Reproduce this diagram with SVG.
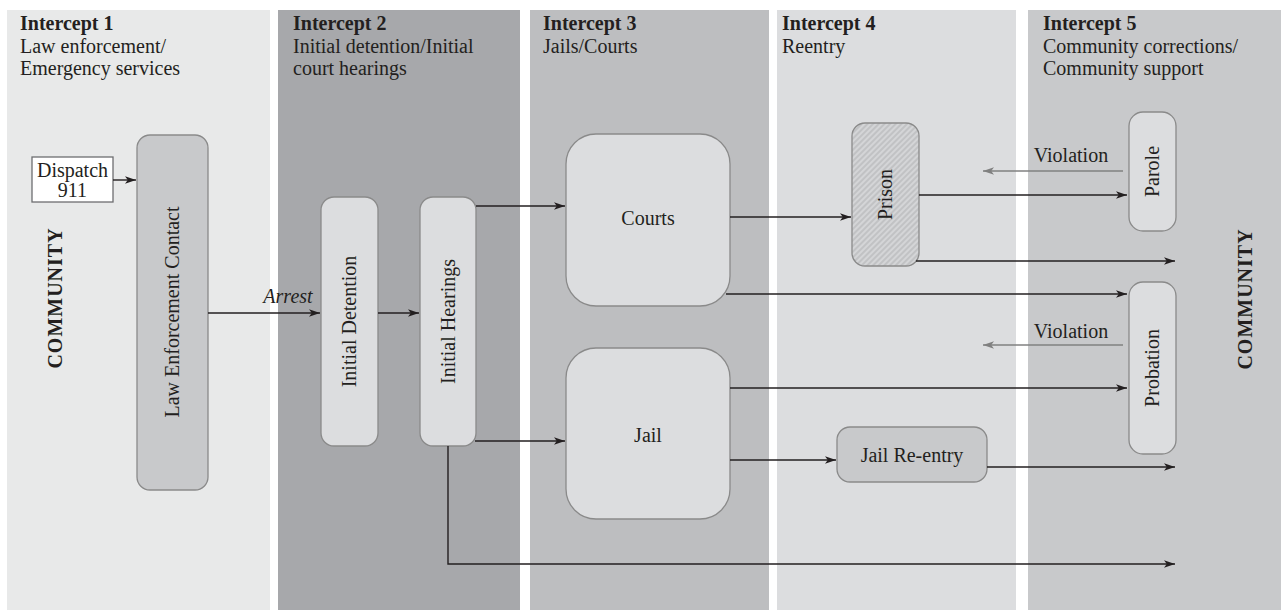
<svg xmlns="http://www.w3.org/2000/svg" width="1281" height="610" viewBox="0 0 1281 610">
<style>
text{font-family:"Liberation Serif","Times New Roman",serif;font-size:20px;fill:#231f20}
.b{font-weight:bold}
.it{font-style:italic}
.m{text-anchor:middle}
.box{fill:#dcdddf;stroke:#8a8a8a;stroke-width:1.3}
.dk{fill:#c8c9cb;stroke:#8a8a8a;stroke-width:1.3}
.c{fill:none;stroke:#231f20;stroke-width:1.4}
.g{fill:none;stroke:#808080;stroke-width:1.4}
</style>
<defs>
<marker id="a" viewBox="0 0 10 7" refX="10" refY="3.5" markerWidth="11" markerHeight="8" markerUnits="userSpaceOnUse" orient="auto"><path d="M0,0 L10,3.5 L0,7 L2.5,3.5 z" fill="#231f20"/></marker>
<marker id="ag" viewBox="0 0 10 7" refX="10" refY="3.5" markerWidth="11" markerHeight="8" markerUnits="userSpaceOnUse" orient="auto"><path d="M0,0 L10,3.5 L0,7 L2.5,3.5 z" fill="#808080"/></marker>
<pattern id="h" width="4" height="4" patternUnits="userSpaceOnUse" patternTransform="rotate(45)"><rect width="4" height="4" fill="#d4d5d7"/><line x1="1" y1="0" x2="1" y2="4" stroke="#aeafb1" stroke-width="1"/></pattern>
</defs>
<rect width="1281" height="610" fill="#ffffff"/>
<g id="columns">
<rect x="7" y="10" width="263" height="600" fill="#e8e9e9"/>
<rect x="278" y="10" width="242" height="600" fill="#a7a8ab"/>
<rect x="530" y="10" width="239" height="600" fill="#bdbec0"/>
<rect x="777" y="10" width="239" height="600" fill="#dcdddf"/>
<rect x="1028" y="10" width="253" height="600" fill="#c8c9cb"/>
</g>
<g id="titles">
<text x="20" y="30" class="b">Intercept 1</text>
<text x="20" y="53">Law enforcement/</text>
<text x="20" y="75">Emergency services</text>
<text x="293" y="30" class="b">Intercept 2</text>
<text x="293" y="53">Initial detention/Initial</text>
<text x="293" y="75">court hearings</text>
<text x="543" y="30" class="b">Intercept 3</text>
<text x="543" y="53">Jails/Courts</text>
<text x="782" y="30" class="b">Intercept 4</text>
<text x="782" y="53">Reentry</text>
<text x="1043" y="30" class="b">Intercept 5</text>
<text x="1043" y="53">Community corrections/</text>
<text x="1043" y="75">Community support</text>
</g>
<g id="community-left"><text class="b m" transform="translate(62,298) rotate(-90)" style="letter-spacing:1px">COMMUNITY</text></g>
<g id="community-right"><text class="b m" transform="translate(1252,299) rotate(-90)" style="letter-spacing:1px">COMMUNITY</text></g>
<g id="dispatch">
<rect x="32" y="157" width="81" height="45" fill="#ffffff" stroke="#6d6e70" stroke-width="1.3"/>
<text x="72.5" y="177" class="m">Dispatch</text>
<text x="72.5" y="197" class="m">911</text>
</g>
<g id="law-enforcement">
<rect x="137" y="135" width="71" height="355" rx="13" class="dk"/>
<text class="m" transform="translate(179,312) rotate(-90)">Law Enforcement Contact</text>
</g>
<g id="initial-detention">
<rect x="321" y="197" width="57" height="249" rx="13" class="box"/>
<text class="m" transform="translate(356,321.5) rotate(-90)">Initial Detention</text>
</g>
<g id="initial-hearings">
<rect x="420" y="197" width="56" height="249" rx="13" class="box"/>
<text class="m" transform="translate(455,321.5) rotate(-90)">Initial Hearings</text>
</g>
<g id="courts">
<rect x="566" y="134" width="164" height="172" rx="30" class="box"/>
<text x="648" y="225" class="m">Courts</text>
</g>
<g id="jail">
<rect x="566" y="348" width="164" height="171" rx="30" class="box"/>
<text x="648" y="442" class="m">Jail</text>
</g>
<g id="prison">
<rect x="852" y="123" width="67" height="143" rx="13" fill="url(#h)" stroke="#8a8a8a" stroke-width="1.3"/>
<text class="m" transform="translate(892,194.5) rotate(-90)">Prison</text>
</g>
<g id="jail-reentry">
<rect x="837" y="427" width="150" height="55" rx="13" class="dk"/>
<text x="912" y="462" class="m">Jail Re-entry</text>
</g>
<g id="parole">
<rect x="1129" y="112" width="47" height="119" rx="14" class="box"/>
<text class="m" transform="translate(1159,171.5) rotate(-90)">Parole</text>
</g>
<g id="probation">
<rect x="1129" y="282" width="47" height="172" rx="14" class="box"/>
<text class="m" transform="translate(1159,368) rotate(-90)">Probation</text>
</g>
<g id="connectors">
<path class="c" d="M113,180 H136" marker-end="url(#a)"/>
<path class="c" d="M208,313 H320" marker-end="url(#a)"/>
<path class="c" d="M378,313 H419" marker-end="url(#a)"/>
<path class="c" d="M476,206 H565" marker-end="url(#a)"/>
<path class="c" d="M475,441 H565" marker-end="url(#a)"/>
<path class="c" d="M448,446 V564 H1175" marker-end="url(#a)"/>
<path class="c" d="M730,217 H851" marker-end="url(#a)"/>
<path class="c" d="M726,294 H1127" marker-end="url(#a)"/>
<path class="c" d="M730,388 H1127" marker-end="url(#a)"/>
<path class="c" d="M730,460 H836" marker-end="url(#a)"/>
<path class="c" d="M987,467 H1175" marker-end="url(#a)"/>
<path class="c" d="M919,195 H1127" marker-end="url(#a)"/>
<path class="c" d="M916,261 H1175" marker-end="url(#a)"/>
<path class="g" d="M1123,171 H983" marker-end="url(#ag)"/>
<path class="g" d="M1123,345 H983" marker-end="url(#ag)"/>
<text x="288" y="303" class="it m">Arrest</text>
<text x="1071" y="162" class="m">Violation</text>
<text x="1071" y="338" class="m">Violation</text>
</g>
</svg>
